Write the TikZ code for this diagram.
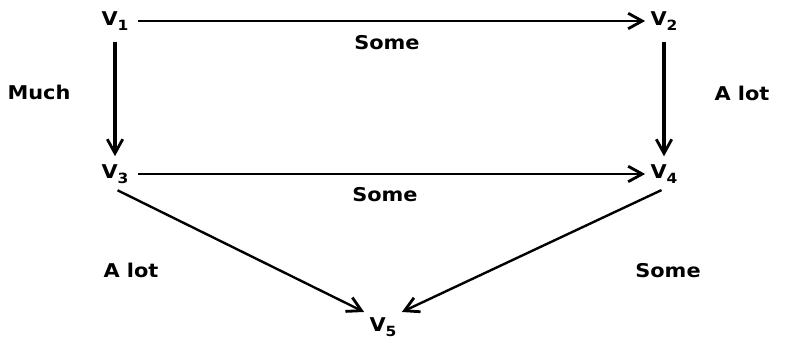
\documentclass[tikz,border=0pt]{standalone}
\usepackage{fontspec}
\setmainfont[FakeStretch=1.1]{DejaVu Sans}
\usetikzlibrary{arrows.meta}
\newcommand{\vtx}[1]{V\raisebox{-0.5ex}{\normalsize #1}}

\begin{document}
\begin{tikzpicture}[x=0.025cm, y=-0.025cm, >={Straight Barb[length=10pt,width=11pt,line width=2pt]}, line width=1.7pt,
    every node/.style={font=\bfseries\fontsize{13.5}{16}\selectfont},
    vert/.style={inner sep=3pt}]
  \useasboundingbox (0,0) rectangle (786,340);
  % 1. vertices
  \node[vert] (v1) at (115,21) {\vtx{1}};
  \node[vert] (v2) at (664,21) {\vtx{2}};
  \node[vert] (v3) at (115,174) {\vtx{3}};
  \node[vert] (v4) at (664,174) {\vtx{4}};
  \node[vert] (v5) at (383,327) {\vtx{5}};

  % 2. arrows
  \draw[->, shorten <=3pt] (v1) -- (v2);
  \draw[->, shorten <=3pt] (v3) -- (v4);
  \draw[->, line width=2.5pt, shorten <=4pt, shorten >=2pt] (v1) -- (v3);
  \draw[->, line width=2.5pt, shorten <=4pt, shorten >=2pt] (v2) -- (v4);
  \draw[->, shorten <=2pt] (v3.south) -- (v5.north west);
  \draw[->, shorten <=2pt] (v4.south) -- (v5.north east);

  % 3. amounts
  \node (l12) at (387,43) {Some};
  \node (l13) at (39,92) {Much};
  \node (l24) at (742,93) {A lot};
  \node (l34) at (385,195) {Some};
  \node (l35) at (131,270) {A lot};
  \node (l45) at (668,271) {Some};
\end{tikzpicture}
\end{document}
